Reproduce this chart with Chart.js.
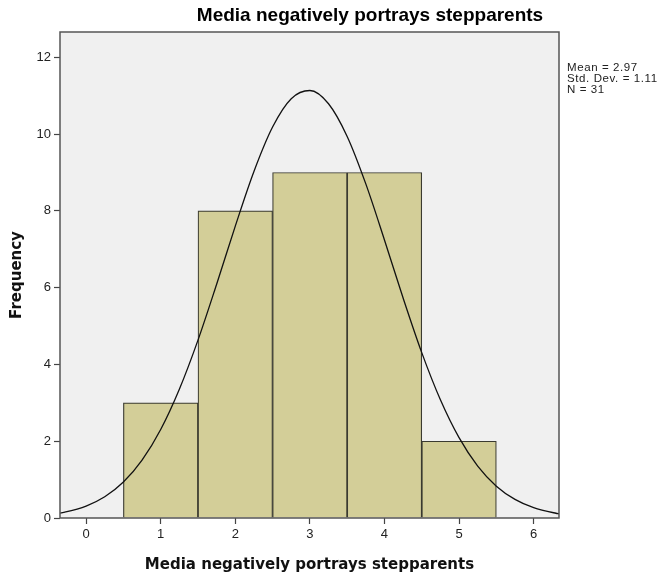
<!DOCTYPE html>
<html><head><meta charset="utf-8">
<script src="https://cdn.jsdelivr.net/npm/chart.js@4/dist/chart.umd.min.js"></script>
<style>html,body{margin:0;padding:0;background:#fff}#wrap{width:661px;height:578px}</style>
</head><body><div id="wrap"><canvas id="c" width="661" height="578"></canvas></div>
<script>
const chartTitle = 'Media negatively portrays stepparents';
const xTitle = 'Media negatively portrays stepparents';
const yTitle = 'Frequency';
const statsLines = ['Mean = 2.97', 'Std. Dev. = 1.11', 'N = 31'];
const binCenters = [1, 2, 3, 4, 5];
const frequencies = [3, 8, 9, 9, 2];
const curveX = [-0.35,-0.3,0,0.25,0.5,0.75,1,1.25,1.5,1.75,2,2.25,2.5,2.75,3,3.25,3.5,3.75,4,4.25,4.5,4.75,5,5.25,5.5,5.75,6,6.3,6.34];
const curveY = [0.127,0.145,0.311,0.553,0.937,1.508,2.306,3.354,4.634,6.090,7.604,9.027,10.185,10.923,11.136,10.791,9.940,8.703,7.243,5.730,4.308,3.080,2.092,1.351,0.829,0.484,0.268,0.124,0.111];
const xTicks = [0,1,2,3,4,5,6];
const yTicks = [0,2,4,6,8,10,12];

const frame = {
  id:'frame',
  beforeDatasetsDraw(chart){
    const a = chart.chartArea, ctx = chart.ctx;
    ctx.save(); ctx.fillStyle = '#f0f0f0';
    ctx.fillRect(a.left, a.top, a.right-a.left, a.bottom-a.top); ctx.restore();
  },
  afterDraw(chart){
    const a = chart.chartArea, ctx = chart.ctx;
    ctx.save();
    ctx.strokeStyle = '#555'; ctx.lineWidth = 1.5;
    ctx.strokeRect(a.left, a.top, a.right-a.left, a.bottom-a.top);
    ctx.fillStyle = '#000'; ctx.font = 'bold 19px "Liberation Sans", Arial, sans-serif';
    ctx.textAlign = 'center'; ctx.textBaseline = 'middle';
    ctx.fillText(chartTitle, 370, 16);
    ctx.fillStyle = '#222'; ctx.font = '11.5px "Liberation Sans", Arial, sans-serif';
    try { ctx.letterSpacing = '0.6px'; } catch(e) {}
    ctx.textAlign = 'left'; ctx.textBaseline = 'alphabetic';
    statsLines.forEach((s,i)=>ctx.fillText(s, 567, 70.5 + i*11));
    ctx.restore();
  }
};

new Chart(document.getElementById('c'), {
  type: 'bar',
  data: {
    datasets: [
      { type:'line', data: curveX.map((x,i)=>({x, y:curveY[i]})), borderColor:'#111', borderWidth:1.3,
        pointRadius:0, tension:0.4, cubicInterpolationMode:'monotone', fill:false, order:0 },
      { type:'bar', data: binCenters.map((x,i)=>({x, y:frequencies[i]})), backgroundColor:'#d3ce98',
        borderColor:'#3a3a30', borderWidth:1.2, barPercentage:1, categoryPercentage:1, order:1 }
    ]
  },
  options: {
    responsive:false, animation:false,
    layout:{ padding:{ top:32, right:102, left:0, bottom:0 } },
    plugins:{ legend:{display:false}, tooltip:{enabled:false} },
    scales:{
      x:{ type:'linear', min:-0.35, max:6.34, offset:false,
        afterBuildTicks(s){ s.ticks = xTicks.map(v=>({value:v})); },
        afterFit(s){ s.height = 60; },
        grid:{ offset:false, drawOnChartArea:false, tickLength:6, color:'#444', tickWidth:1.2 },
        border:{ display:false },
        ticks:{ color:'#222', font:{ size:13, family:'"Liberation Sans", Arial' }, padding:3 },
        title:{ display:true, text:xTitle, color:'#111', font:{ size:15, weight:'bold', family:'"DejaVu Sans", Verdana' }, padding:{top:8} }
      },
      y:{ min:0, max:12.66,
        afterBuildTicks(s){ s.ticks = yTicks.map(v=>({value:v})); },
        afterFit(s){ s.width = 60; },
        grid:{ drawOnChartArea:false, tickLength:6, color:'#444', tickWidth:1.2 },
        border:{ display:false },
        ticks:{ color:'#222', font:{ size:13, family:'"Liberation Sans", Arial' }, padding:3 },
        title:{ display:true, text:yTitle, color:'#111', font:{ size:15, weight:'bold', family:'"DejaVu Sans", Verdana' }, padding:{top:8, bottom:2} }
      }
    }
  },
  plugins:[frame]
});
</script></body></html>
